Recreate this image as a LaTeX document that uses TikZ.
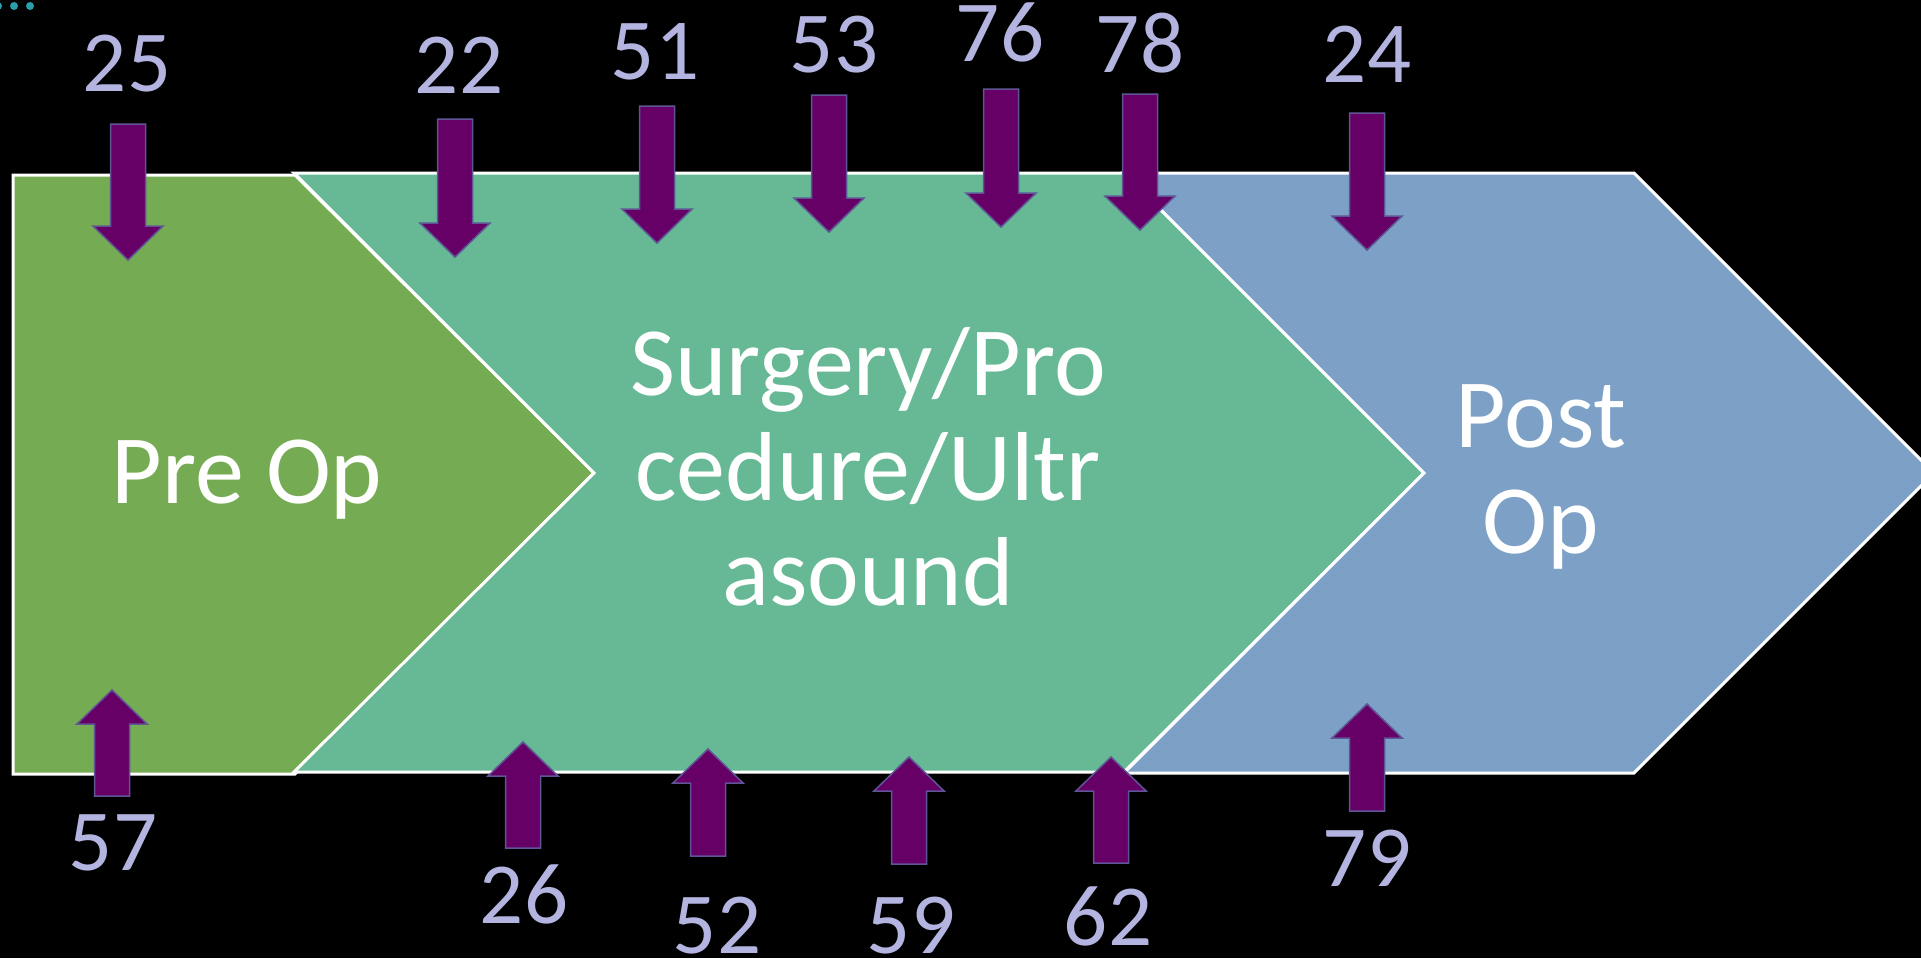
\documentclass[tikz,border=0pt]{standalone}
\usepackage{fontspec}
\setmainfont{Carlito}
\definecolor{bgblack}{RGB}{0,0,0}
\definecolor{preop}{RGB}{117,171,82}
\definecolor{surgery}{RGB}{102,185,148}
\definecolor{postop}{RGB}{125,161,198}
\definecolor{arrowfill}{RGB}{102,0,102}
\definecolor{arrowedge}{RGB}{95,85,150}
\definecolor{numtext}{RGB}{180,180,225}
\definecolor{dotcol}{RGB}{40,160,170}

% block arrows: down arrow from top of shaft to tip, up arrow from tip to bottom of shaft
\newcommand\blockdown[3]{%
  \draw[blockarrow] ({#1-17.5},#2) -- ({#1+17.5},#2) -- ({#1+17.5},{#3-34}) -- ({#1+35},{#3-34})
    -- (#1,#3) -- ({#1-35},{#3-34}) -- ({#1-17.5},{#3-34}) -- cycle;}
\newcommand\blockup[3]{%
  \draw[blockarrow] (#1,#2) -- ({#1+35},{#2+34}) -- ({#1+17.5},{#2+34}) -- ({#1+17.5},#3)
    -- ({#1-17.5},#3) -- ({#1-17.5},{#2+34}) -- ({#1-35},{#2+34}) -- cycle;}

\begin{document}
\begin{tikzpicture}[x=1pt,y=-1pt,
  phase/.style={draw=white,line width=3pt,line join=miter},
  blockarrow/.style={fill=arrowfill,draw=arrowedge,line width=1.5pt,line join=miter},
  num/.style={text=numtext,font=\fontsize{87}{87}\selectfont,anchor=base,inner sep=0pt},
  label/.style={text=white,font=\fontsize{98}{105}\selectfont,align=center,anchor=base,inner sep=0pt}]

\fill[bgblack] (0,0) rectangle (1921,958);
\useasboundingbox (0,0) rectangle (1921,958);
\clip (0,0) rectangle (1921,958);

% three small dots in the corner
\foreach \dx in {-2,14,30} \fill[dotcol] (\dx,6) circle (4);

% phase shapes
\draw[phase,fill=preop] (13,175) -- (295,175) -- (594,473) -- (295,774) -- (13,774) -- cycle;
\draw[phase,fill=surgery] (294,173) -- (1124,173) -- (1424,473) -- (1124,772) -- (294,772) -- (594,473) -- cycle;
\draw[phase,fill=postop] (1124,173) -- (1634,173) -- (1934,473) -- (1634,773) -- (1124,773) -- (1424,473) -- cycle;

% phase titles
\node[label] (pre) at (247,503) {Pre Op};
\node[label] (surg1) at (868,395) {Surgery/Pro};
\node[label] (surg2) at (868,500) {cedure/Ultr};
\node[label] (surg3) at (868,605) {asound};
\node[label] (post1) at (1541,447) {Post};
\node[label] (post2) at (1541,553) {Op};

% arrows from above
\blockdown{128}{124}{260}
\blockdown{455}{119}{257}
\blockdown{657}{106}{243}
\blockdown{829}{95}{232}
\blockdown{1001}{89}{227}
\blockdown{1140}{94}{230}
\blockdown{1367}{113}{250}

% arrows from below
\blockup{112}{690}{796}
\blockup{523}{742}{848}
\blockup{708}{749}{856}
\blockup{909}{757}{864}
\blockup{1111}{757}{863}
\blockup{1367}{704}{811}

% counts above
\node[num] (t25) at (127,92) {25};
\node[num] (t22) at (459,93) {22};
\node[num] (t51) at (655,79) {51};
\node[num] (t53) at (834,73) {53};
\node[num] (t76) at (1000,62) {76};
\node[num] (t78) at (1140,73) {78};
\node[num] (t24) at (1367,82) {24};

% counts below
\node[num] (b57) at (113,870) {57};
\node[num] (b26) at (524,923) {26};
\node[num] (b52) at (717,953) {52};
\node[num] (b59) at (911,953) {59};
\node[num] (b62) at (1108,945) {62};
\node[num] (b79) at (1367,886) {79};
\end{tikzpicture}
\end{document}
